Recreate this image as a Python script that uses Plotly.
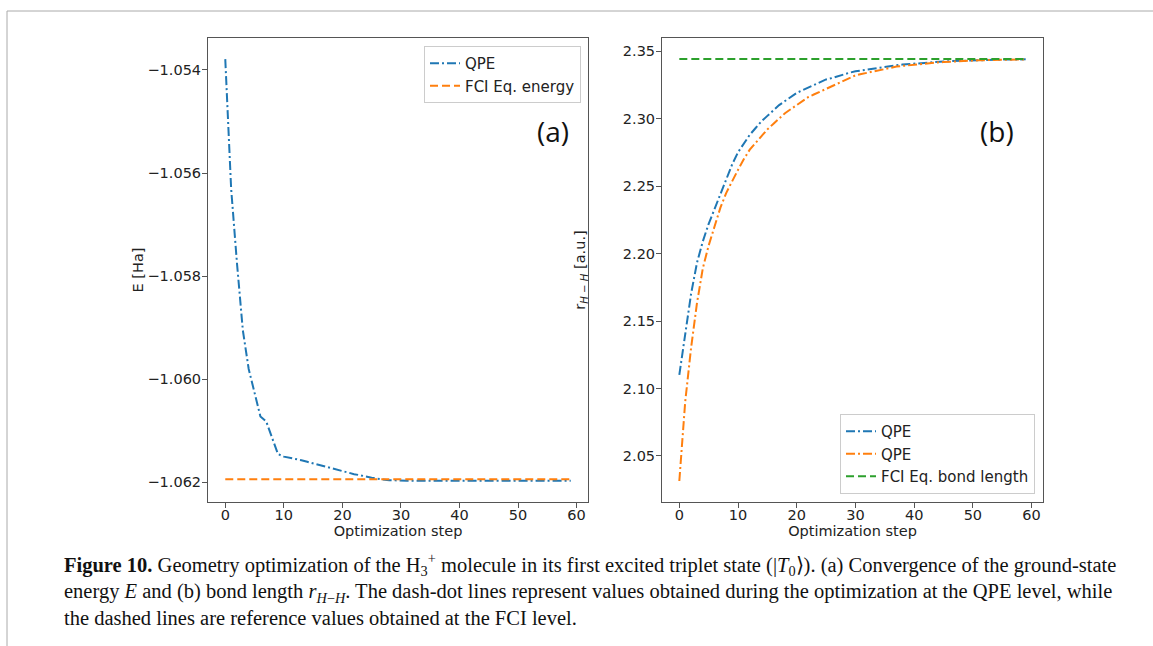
import plotly.graph_objects as go

W, H = 1153, 646

# ---------------- data ----------------
steps = list(range(60))

energy_qpe = [
    -1.05379, -1.05630, -1.05775, -1.05905, -1.05980, -1.06025, -1.06072, -1.06082,
    -1.06115, -1.06145, -1.06150, -1.06152, -1.06154, -1.06157, -1.06160, -1.06163,
    -1.06166, -1.06170, -1.06173, -1.06176, -1.06179, -1.06182, -1.06184, -1.06186,
    -1.06189, -1.06191, -1.06193, -1.06195, -1.06196, -1.06196, -1.06197, -1.06197,
    -1.06197, -1.06197, -1.06197, -1.06197, -1.06197, -1.06197, -1.06197, -1.06197,
    -1.06197, -1.06197, -1.06197, -1.06197, -1.06197, -1.06197, -1.06197, -1.06197,
    -1.06197, -1.06197, -1.06197, -1.06197, -1.06197, -1.06197, -1.06197, -1.06197,
    -1.06197, -1.06197, -1.06197, -1.06197,
]
energy_fci = -1.06194

bond_qpe_a = [
    2.1101, 2.1390, 2.1700, 2.1930, 2.2090, 2.2220, 2.2330, 2.2440,
    2.2560, 2.2660, 2.2750, 2.2820, 2.2880, 2.2930, 2.2980, 2.3020,
    2.3060, 2.3100, 2.3130, 2.3160, 2.3190, 2.3210, 2.3230, 2.3250,
    2.3270, 2.3290, 2.3300, 2.3315, 2.3330, 2.3340, 2.3350, 2.3357,
    2.3365, 2.3370, 2.3377, 2.3385, 2.3390, 2.3395, 2.3400, 2.3404,
    2.3408, 2.3412, 2.3415, 2.3418, 2.3420, 2.3423, 2.3425, 2.3427,
    2.3429, 2.3430, 2.3432, 2.3433, 2.3434, 2.3435, 2.3436, 2.3437,
    2.3437, 2.3438, 2.3438, 2.3439,
]
bond_qpe_b = [
    2.0315, 2.0900, 2.1300, 2.1630, 2.1890, 2.2060, 2.2200, 2.2340,
    2.2450, 2.2540, 2.2620, 2.2700, 2.2770, 2.2820, 2.2870, 2.2920,
    2.2960, 2.3000, 2.3040, 2.3070, 2.3100, 2.3130, 2.3160, 2.3180,
    2.3200, 2.3225, 2.3245, 2.3265, 2.3280, 2.3305, 2.3320, 2.3330,
    2.3340, 2.3350, 2.3360, 2.3370, 2.3378, 2.3385, 2.3390, 2.3395,
    2.3400, 2.3405, 2.3409, 2.3413, 2.3416, 2.3419, 2.3422, 2.3424,
    2.3426, 2.3428, 2.3430, 2.3432, 2.3433, 2.3434, 2.3435, 2.3436,
    2.3437, 2.3437, 2.3438, 2.3438,
]
bond_fci = 2.3441

x_ticks = [0, 10, 20, 30, 40, 50, 60]
e_ticks = [-1.054, -1.056, -1.058, -1.060, -1.062]
r_ticks = [2.05, 2.10, 2.15, 2.20, 2.25, 2.30, 2.35]

# ---------------- styling ----------------
BLUE, ORANGE, GREEN = "#1f77b4", "#ff7f0e", "#2ca02c"
DASHDOT = "9px,3px,2px,3px"
DASHED = "8px,4px"
TXT = "#222222"
TICKFONT = dict(family="DejaVu Sans", size=14.5, color=TXT)
TITLEFONT = dict(family="DejaVu Sans", size=14.5, color=TXT)
LEGFONT = dict(family="DejaVu Sans", size=15, color=TXT)
SPINE = "#555555"

fig = go.Figure()

fig.add_trace(go.Scatter(x=steps, y=energy_qpe, mode="lines", name="QPE",
                         line=dict(color=BLUE, width=2, dash=DASHDOT),
                         xaxis="x", yaxis="y", legend="legend"))
fig.add_trace(go.Scatter(x=[steps[0], steps[-1]], y=[energy_fci, energy_fci], mode="lines",
                         name="FCI Eq. energy",
                         line=dict(color=ORANGE, width=2, dash=DASHED),
                         xaxis="x", yaxis="y", legend="legend"))

fig.add_trace(go.Scatter(x=steps, y=bond_qpe_a, mode="lines", name="QPE",
                         line=dict(color=BLUE, width=2, dash=DASHDOT),
                         xaxis="x2", yaxis="y2", legend="legend2"))
fig.add_trace(go.Scatter(x=steps, y=bond_qpe_b, mode="lines", name="QPE",
                         line=dict(color=ORANGE, width=2, dash=DASHDOT),
                         xaxis="x2", yaxis="y2", legend="legend2"))
fig.add_trace(go.Scatter(x=[steps[0], steps[-1]], y=[bond_fci, bond_fci], mode="lines",
                         name="FCI Eq. bond length",
                         line=dict(color=GREEN, width=2, dash=DASHED),
                         xaxis="x2", yaxis="y2", legend="legend2"))

ydom = [1 - 502 / H, 1 - 38 / H]


def axis_common():
    return dict(showgrid=False, zeroline=False, showline=True, mirror=True,
                linecolor=SPINE, linewidth=1, ticks="outside", ticklen=5,
                tickcolor=SPINE, tickwidth=1, tickfont=TICKFONT)


fig.update_layout(
    width=W, height=H,
    margin=dict(l=0, r=0, t=0, b=0),
    paper_bgcolor="white", plot_bgcolor="white",
    xaxis=dict(domain=[208 / W, 588 / W], range=[-2.95, 61.95], tickvals=x_ticks,
               ticklabelstandoff=-5,
               title=dict(text="Optimization step", font=TITLEFONT, standoff=0),
               anchor="y", **axis_common()),
    yaxis=dict(domain=ydom, range=[-1.06238, -1.05338], tickvals=e_ticks, tickformat=".3f",
               ticklabelstandoff=-2,
               title=dict(text="E [Ha]", font=TITLEFONT, standoff=0),
               anchor="x", **axis_common()),
    xaxis2=dict(domain=[662 / W, 1043 / W], range=[-2.95, 61.95], tickvals=x_ticks,
                ticklabelstandoff=-5,
                title=dict(text="Optimization step", font=TITLEFONT, standoff=0),
                anchor="y2", **axis_common()),
    yaxis2=dict(domain=ydom, range=[2.0159, 2.3597], tickvals=r_ticks, tickformat=".2f",
                ticklabelstandoff=-2,
                title=dict(text="r<sub><i>H − H</i></sub> [a.u.]", font=TITLEFONT, standoff=33),
                anchor="x2", **axis_common()),
    legend=dict(x=581 / W, y=1 - 46 / H, xanchor="right", yanchor="top",
                bgcolor="rgba(255,255,255,0.9)", bordercolor="#cccccc", borderwidth=1,
                font=LEGFONT, itemwidth=30, tracegroupgap=0),
    legend2=dict(x=1035 / W, y=1 - 494 / H, xanchor="right", yanchor="bottom",
                 bgcolor="rgba(255,255,255,0.9)", bordercolor="#cccccc", borderwidth=1,
                 font=LEGFONT, itemwidth=30, tracegroupgap=0),
    showlegend=True,
)

# panel labels
fig.add_annotation(text="(a)", x=553 / W, y=1 - 131 / H, xref="paper", yref="paper",
                   showarrow=False, font=dict(family="Open Sans", size=28, color="#111"),
                   xanchor="center", yanchor="middle")
fig.add_annotation(text="(b)", x=997 / W, y=1 - 131 / H, xref="paper", yref="paper",
                   showarrow=False, font=dict(family="Open Sans", size=28, color="#111"),
                   xanchor="center", yanchor="middle")

# caption (one multi-line text block)
caption = (
    "<b>Figure 10.</b> Geometry optimization of the H<sub>3</sub><sup>+</sup> molecule in its first "
    "excited triplet state (|<i>T</i><sub>0</sub>⟩). (a) Convergence of the ground-state<br>"
    "energy <i>E</i> and (b) bond length <i>r</i><sub><i>H</i>−<i>H</i></sub>. The dash-dot lines "
    "represent values obtained during the optimization at the QPE level, while<br>"
    "the dashed lines are reference values obtained at the FCI level."
)
fig.add_annotation(text=caption, x=62 / W, y=1 - 548 / H, xref="paper", yref="paper",
                   showarrow=False, font=dict(family="Liberation Serif", size=20.5, color="#111"),
                   xanchor="left", yanchor="top", align="left")

# page frame lines (top and left)
fig.add_shape(type="line", xref="paper", yref="paper", x0=7 / W, x1=1.0, y0=1 - 11 / H, y1=1 - 11 / H,
              line=dict(color="#aaaaaa", width=1))
fig.add_shape(type="line", xref="paper", yref="paper", x0=7 / W, x1=7 / W, y0=0, y1=1 - 11 / H,
              line=dict(color="#aaaaaa", width=1))

fig.write_html("out.html")
